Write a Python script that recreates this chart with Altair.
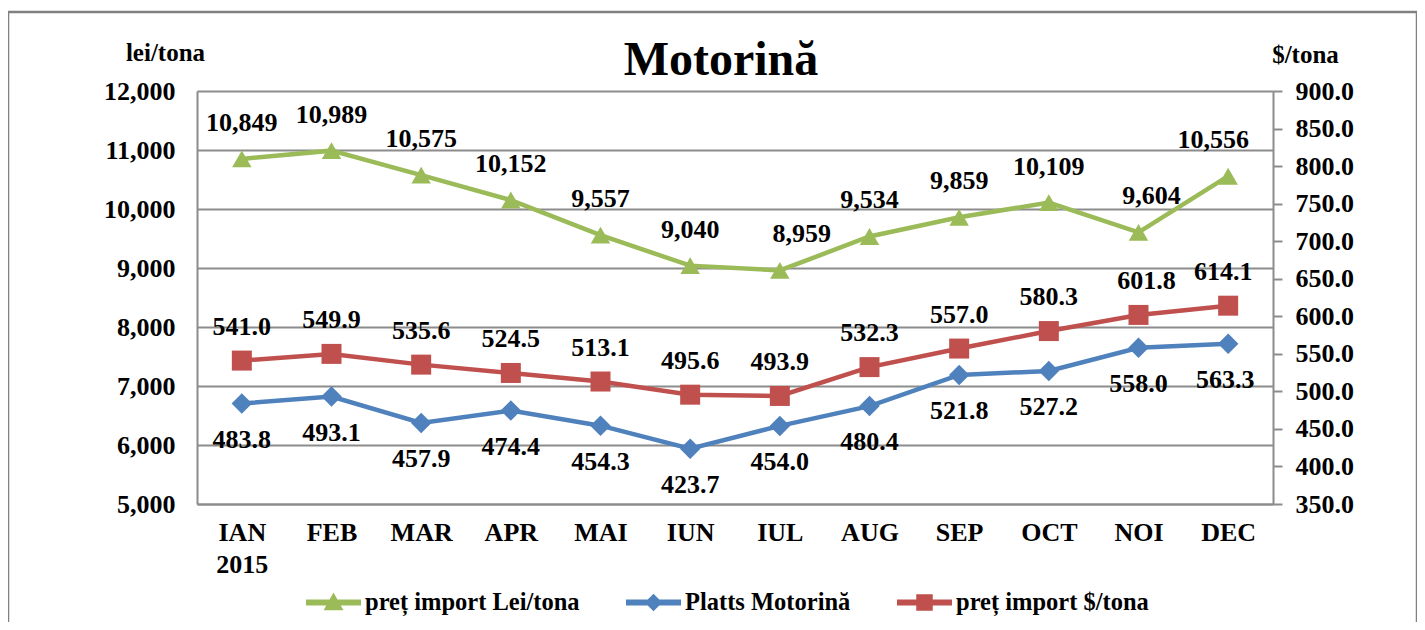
import altair as alt
import pandas as pd

months = ["IAN 2015", "FEB", "MAR", "APR", "MAI", "IUN", "IUL", "AUG", "SEP", "OCT", "NOI", "DEC"]
series_names = ["preț import Lei/tona", "Platts Motorină", "preț import $/tona"]
lei_tona = [10849, 10989, 10575, 10152, 9557, 9040, 8959, 9534, 9859, 10109, 9604, 10556]
platts = [483.8, 493.1, 457.9, 474.4, 454.3, 423.7, 454.0, 480.4, 521.8, 527.2, 558.0, 563.3]
usd_tona = [541.0, 549.9, 535.6, 524.5, 513.1, 495.6, 493.9, 532.3, 557.0, 580.3, 601.8, 614.1]
lei_ticks = [5000, 6000, 7000, 8000, 9000, 10000, 11000, 12000]
usd_ticks = [350, 400, 450, 500, 550, 600, 650, 700, 750, 800, 850, 900]

# label nudges (pixels) for a few data labels, as in the original
green_label_dx = [0, 0, 0, 0, 0, 0, 22, 0, 0, 0, 13, -15]
red_label_dx = [0, 0, 0, 0, 0, 0, 0, 0, 0, 0, 8, -5]
blue_label_dx = [0, 0, 0, 0, 0, 0, 0, 0, 0, 0, 0, -3]

FONT = "'Liberation Serif', 'Times New Roman', 'DejaVu Serif', serif"
GREEN = "#9BBB59"
BLUE = "#4F81BD"
RED = "#C0504D"
GRID = "#8C8C8C"

df_g = pd.DataFrame({"month": months, "value": lei_tona, "dx": green_label_dx})
df_b = pd.DataFrame({"month": months, "value": platts, "dx": blue_label_dx})
df_r = pd.DataFrame({"month": months, "value": usd_tona, "dx": red_label_dx})

x_enc = alt.X(
    "month:N", sort=months,
    scale=alt.Scale(type="point", padding=0.5),
    axis=alt.Axis(
        title=None, labelAngle=0, labelExpr="split(datum.label, ' ')",
        labelFont=FONT, labelFontSize=26, labelFontWeight="bold", labelColor="black",
        labelPadding=15, labelLineHeight=32, ticks=False,
        domainColor=GRID, domainWidth=2,
    ),
)

y_left = alt.Y(
    "value:Q",
    scale=alt.Scale(domain=[5000, 12000], nice=False, zero=False),
    axis=alt.Axis(
        orient="left", values=lei_ticks, format=",.0f", grid=True, gridColor=GRID, gridWidth=2,
        domainColor=GRID, domainWidth=2, ticks=False, labelPadding=22,
        labelFont=FONT, labelFontSize=26, labelFontWeight="bold", labelColor="black",
        title="lei/tona", titleAngle=0, titleX=-32, titleY=-31, titleAlign="center",
        titleBaseline="alphabetic", titleFont=FONT, titleFontSize=25, titleFontWeight="bold",
        titleColor="black",
    ),
)

y_right = alt.Y(
    "value:Q",
    scale=alt.Scale(domain=[350, 900], nice=False, zero=False),
    axis=alt.Axis(
        orient="right", values=usd_ticks, format=".1f", grid=False,
        domainColor=GRID, domainWidth=2, ticks=True, tickColor=GRID, tickWidth=2, tickSize=9,
        labelPadding=13,
        labelFont=FONT, labelFontSize=26, labelFontWeight="bold", labelColor="black",
        title="$/tona", titleAngle=0, titleX=32, titleY=-29, titleAlign="center",
        titleBaseline="alphabetic", titleFont=FONT, titleFontSize=25, titleFontWeight="bold",
        titleColor="black",
    ),
)


def label_layers(df, y_enc, fmt, dy, dx_list):
    layers = []
    for v in sorted(set(dx_list)):
        layers.append(
            alt.Chart(df).transform_filter(alt.datum.dx == v).mark_text(
                font=FONT, fontSize=26, fontWeight="bold", color="black",
                dy=dy, dx=v, baseline="middle", align="center",
            ).encode(x=x_enc, y=y_enc, text=alt.Text("value:Q", format=fmt))
        )
    return layers


frame = alt.Chart(pd.DataFrame({"f": [0]})).mark_rect(
    filled=False, stroke="#808080", strokeWidth=2.5
).encode(x=alt.value(-189), x2=alt.value(1220), y=alt.value(-79), y2=alt.value(600))

line_g = alt.Chart(df_g).mark_line(color=GREEN, strokeWidth=4.5).encode(x=x_enc, y=y_left)
pts_g = alt.Chart(df_g).mark_point(shape="triangle-up", filled=True, color=GREEN, size=380, opacity=1).encode(x=x_enc, y=y_left)

legend_df = pd.DataFrame({"series": series_names})
path_tri = "M-1,-0.11H1V0.11H-1Z M0,-0.36L0.36,0.28H-0.36Z"
path_dia = "M-1,-0.11H1V0.11H-1Z M0,-0.32L0.32,0L0,0.32L-0.32,0Z"
path_sq = "M-1,-0.11H1V0.11H-1Z M-0.3,-0.3H0.3V0.3H-0.3Z"
leg = dict(
    orient="none", legendX=109, legendY=484, direction="horizontal", title=None,
    symbolSize=3025, symbolOpacity=1, symbolStrokeWidth=0, labelFont=FONT, labelFontSize=24.5,
    labelFontWeight="bold", labelColor="black", labelLimit=400, columnPadding=46,
    labelOffset=4, padding=0,
)
legend_layer = alt.Chart(legend_df).mark_point(filled=True, opacity=0).encode(
    x=alt.value(0), y=alt.value(0),
    color=alt.Color("series:N", sort=series_names,
                    scale=alt.Scale(domain=series_names, range=[GREEN, BLUE, RED]),
                    legend=alt.Legend(**leg)),
    shape=alt.Shape("series:N", sort=series_names,
                    scale=alt.Scale(domain=series_names, range=[path_tri, path_dia, path_sq]),
                    legend=alt.Legend(**leg)),
)

left = alt.layer(frame, line_g, pts_g, *label_layers(df_g, y_left, ",", -36, green_label_dx), legend_layer)

line_b = alt.Chart(df_b).mark_line(color=BLUE, strokeWidth=4.5).encode(x=x_enc, y=y_right)
pts_b = alt.Chart(df_b).mark_point(shape="diamond", filled=True, color=BLUE, size=420, opacity=1).encode(x=x_enc, y=y_right)
line_r = alt.Chart(df_r).mark_line(color=RED, strokeWidth=4.5).encode(x=x_enc, y=y_right)
pts_r = alt.Chart(df_r).mark_point(shape="square", filled=True, color=RED, size=400, opacity=1).encode(x=x_enc, y=y_right)

right = alt.layer(
    line_b, line_r, pts_b, pts_r,
    *label_layers(df_b, y_right, ".1f", 36, blue_label_dx),
    *label_layers(df_r, y_right, ".1f", -34, red_label_dx),
)

chart = alt.layer(left, right).resolve_scale(y="independent").properties(
    width=1076, height=413,
    padding={"left": 189, "top": 83, "right": 144, "bottom": 118},
    autosize=alt.AutoSizeParams(type="none"),
    title=alt.Title("Motorină", font=FONT, fontSize=48, fontWeight="bold", color="black",
                    anchor="middle", frame="group", offset=0, dx=-14, dy=112, baseline="alphabetic"),
).configure_view(stroke=None).configure(background="white")

chart.save("out.html", embed_options={"renderer": "svg", "actions": False})
